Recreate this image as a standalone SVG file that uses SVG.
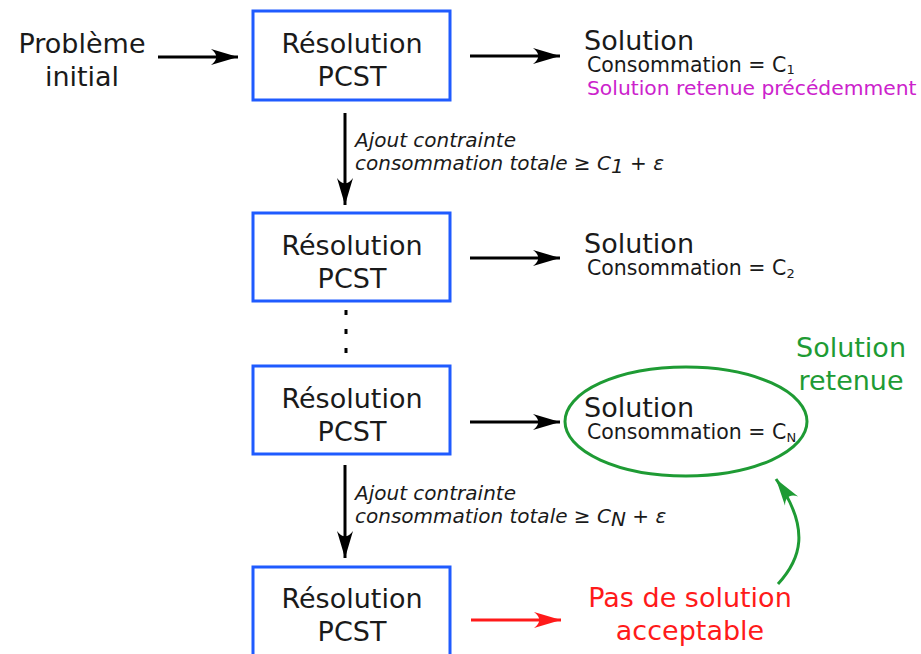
<svg xmlns="http://www.w3.org/2000/svg" width="921" height="654" viewBox="0 0 921 654">
<style>
text{font-family:"DejaVu Sans","Liberation Sans",sans-serif;fill:#1a1a1a}
.big{font-size:27px}
.mid{font-size:20.5px}
.sub{font-size:13px}
.it{font-size:20px;font-style:italic}
.c{text-anchor:middle}
.box{fill:#fff;stroke:#1f5bff;stroke-width:3}
.ln{fill:none;stroke:#000;stroke-width:3}
</style>
<defs>
<marker id="ah" markerUnits="userSpaceOnUse" markerWidth="30" markerHeight="20" viewBox="-27 -10 30 20" refX="0" refY="0" orient="auto"><path d="M0,0 L-27,-8 C-20,-3 -20,3 -27,8 Z" fill="#000"/></marker>
<marker id="ahr" markerUnits="userSpaceOnUse" markerWidth="30" markerHeight="20" viewBox="-27 -10 30 20" refX="0" refY="0" orient="auto"><path d="M0,0 L-27,-8 C-20,-3 -20,3 -27,8 Z" fill="#ff1a1a"/></marker>
<marker id="ahg" markerUnits="userSpaceOnUse" markerWidth="30" markerHeight="20" viewBox="-27 -10 30 20" refX="0" refY="0" orient="auto"><path d="M0,0 L-27,-8 C-20,-3 -20,3 -27,8 Z" fill="#1e9b34"/></marker>
</defs>

<g id="connectors">
<line class="ln" x1="158" y1="57" x2="238" y2="57" marker-end="url(#ah)"/>
<line class="ln" x1="470" y1="56" x2="560" y2="56" marker-end="url(#ah)"/>
<line class="ln" x1="345" y1="113" x2="345" y2="205" marker-end="url(#ah)"/>
<line class="ln" x1="470" y1="258" x2="560" y2="258" marker-end="url(#ah)"/>
<line x1="346" y1="310" x2="346" y2="356" stroke="#000" stroke-width="3" stroke-dasharray="5 14"/>
<line class="ln" x1="470" y1="422" x2="560" y2="422" marker-end="url(#ah)"/>
<line class="ln" x1="345" y1="465" x2="345" y2="558" marker-end="url(#ah)"/>
<line x1="471" y1="620" x2="561" y2="620" stroke="#ff1a1a" stroke-width="3" marker-end="url(#ahr)"/>
<path d="M778,584 C800,560 812,530 776,479" fill="none" stroke="#1e9b34" stroke-width="3" marker-end="url(#ahg)"/>
</g>

<g id="start">
<text class="big c" x="82" y="53">Problème</text>
<text class="big c" x="82" y="86">initial</text>
</g>

<g id="box1">
<rect class="box" x="253" y="11" width="197" height="89"/>
<text class="big c" x="352" y="53">Résolution</text>
<text class="big c" x="352" y="86">PCST</text>
</g>

<g id="sol1">
<text class="big" x="584" y="50">Solution</text>
<text class="mid" x="587" y="72">Consommation = C<tspan class="sub" dy="2">1</tspan></text>
<text x="587" y="95" style="font-size:20.3px;fill:#cc22cc">Solution retenue précédemment</text>
</g>

<g id="label1">
<text class="it" x="355" y="147">Ajout contrainte</text>
<text class="it" x="355" y="170">consommation totale ≥ C<tspan dy="3">1</tspan><tspan dy="-3"> + ε</tspan></text>
</g>

<g id="box2">
<rect class="box" x="253" y="213" width="197" height="88"/>
<text class="big c" x="352" y="255">Résolution</text>
<text class="big c" x="352" y="288">PCST</text>
</g>

<g id="sol2">
<text class="big" x="584" y="253">Solution</text>
<text class="mid" x="587" y="275">Consommation = C<tspan class="sub" dy="3">2</tspan></text>
</g>

<g id="box3">
<rect class="box" x="253" y="366" width="197" height="88"/>
<text class="big c" x="352" y="408">Résolution</text>
<text class="big c" x="352" y="441">PCST</text>
</g>

<g id="solN">
<ellipse cx="686" cy="421.5" rx="121" ry="54.5" fill="none" stroke="#1e9b34" stroke-width="3"/>
<text class="big" x="584" y="417">Solution</text>
<text class="mid" x="587" y="439">Consommation = C<tspan class="sub" dy="3">N</tspan></text>
</g>

<g id="retenue">
<text class="big c" x="851" y="357" style="fill:#1e9b34">Solution</text>
<text class="big c" x="851" y="390" style="fill:#1e9b34">retenue</text>
</g>

<g id="label2">
<text class="it" x="355" y="500">Ajout contrainte</text>
<text class="it" x="355" y="523">consommation totale ≥ C<tspan dy="3">N</tspan><tspan dy="-3"> + ε</tspan></text>
</g>

<g id="box4">
<rect class="box" x="253" y="567" width="197" height="100"/>
<text class="big c" x="352" y="608">Résolution</text>
<text class="big c" x="352" y="641">PCST</text>
</g>

<g id="nosol">
<text class="big c" x="690" y="607" style="fill:#ff1a1a">Pas de solution</text>
<text class="big c" x="690" y="640" style="fill:#ff1a1a">acceptable</text>
</g>
</svg>
